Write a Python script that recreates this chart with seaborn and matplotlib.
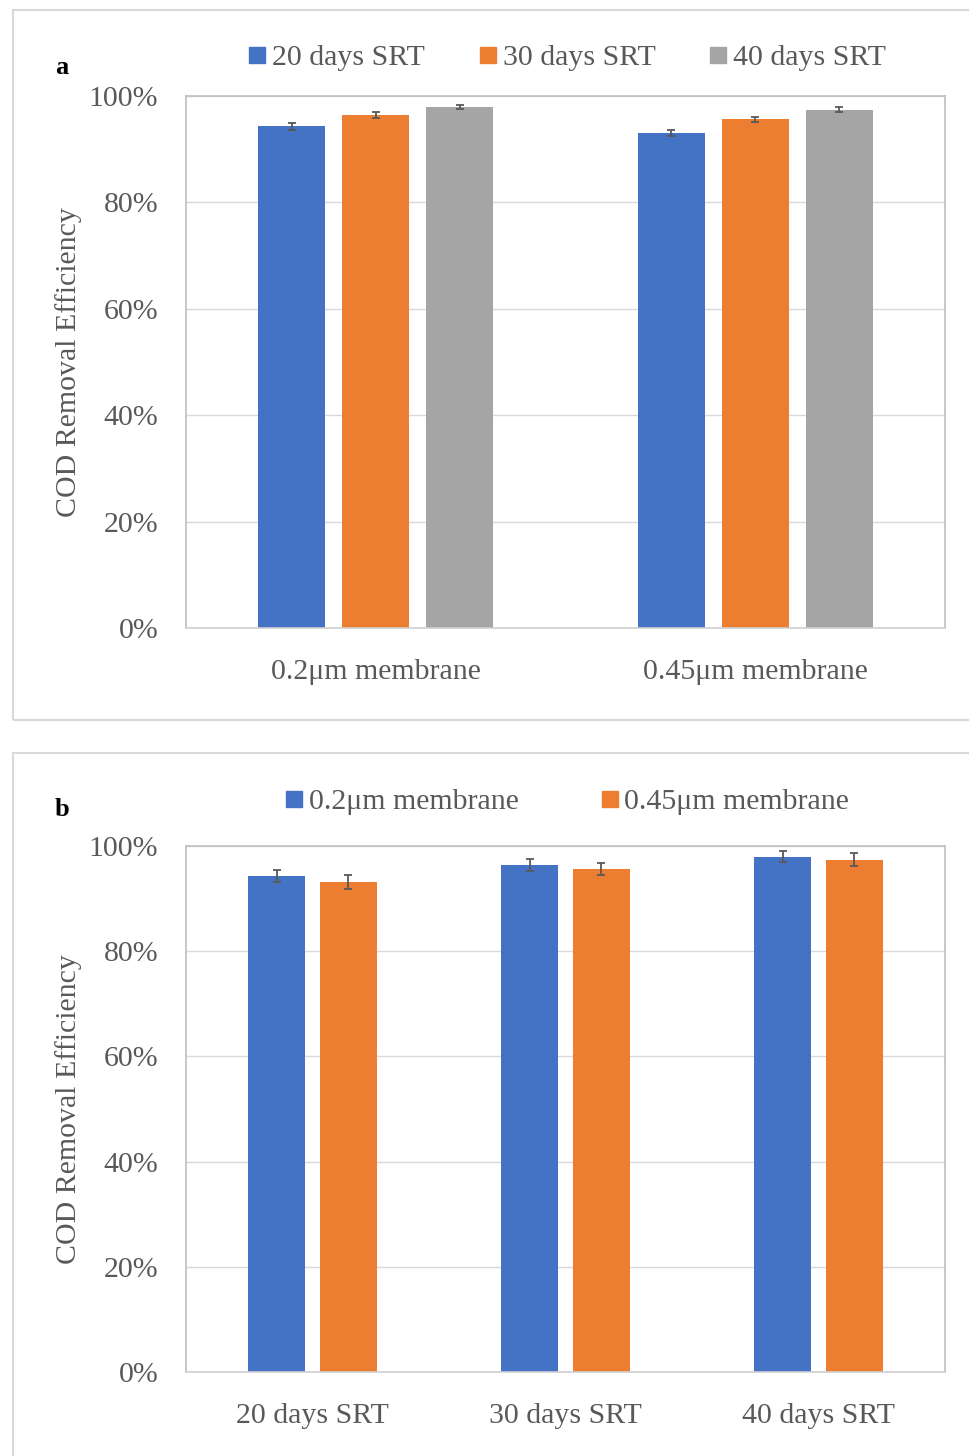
import matplotlib
matplotlib.use("Agg")
import matplotlib.pyplot as plt
import seaborn as sns
import pandas as pd
from matplotlib.patches import Rectangle
from matplotlib.ticker import PercentFormatter
from matplotlib.lines import Line2D

# data (COD removal, %)
srt_levels = ["20 days SRT", "30 days SRT", "40 days SRT"]
membranes = ["0.2\u03bcm membrane", "0.45\u03bcm membrane"]
cod_02 = [94.3, 96.4, 98.0]
cod_045 = [93.1, 95.6, 97.4]
err_a_02 = [0.6, 0.5, 0.4]
err_a_045 = [0.6, 0.5, 0.45]
err_b_02 = [1.1, 1.1, 1.1]
err_b_045 = [1.3, 1.2, 1.2]
yticks = [0, 20, 40, 60, 80, 100]

blue, orange, grey = "#4472C4", "#ED7D31", "#A5A5A5"
text_col = "#595959"
fs = 21.5

sns.set_theme(style="white")
plt.rcParams['font.family'] = ['Liberation Serif', 'DejaVu Serif']

W, H = 969, 1456
fig = plt.figure(figsize=(W / 100, H / 100), dpi=100)


def px_axes(x0, y0, x1, y1):
    return fig.add_axes([x0 / W, 1 - y1 / H, (x1 - x0) / W, (y1 - y0) / H])


def style_axes(ax, ncat):
    ax.set_xlim(-0.5, ncat - 0.5)
    ax.set_ylim(0, 100)
    ax.set_yticks(yticks)
    ax.yaxis.set_major_formatter(PercentFormatter(decimals=0))
    ax.grid(axis="y", color="#D9D9D9", lw=1)
    ax.set_axisbelow(True)
    for name, s in ax.spines.items():
        s.set_visible(True)
        s.set_color("#D0D0D0" if name == "bottom" else "#BFBFBF")
        s.set_linewidth(1.2)
    ax.tick_params(axis="both", length=0, labelsize=fs, colors=text_col)
    ax.tick_params(axis="y", pad=20)
    ax.tick_params(axis="x", pad=22)
    ax.set_xlabel("")
    ax.set_ylabel("COD Removal Efficiency", fontsize=fs, color=text_col)
    ax.yaxis.set_label_coords(-0.137, 0.5)


def add_errors(ax, errs):
    for cont, err in zip(ax.containers, errs):
        xs = [p.get_x() + p.get_width() / 2 for p in cont]
        ys = [p.get_height() for p in cont]
        ax.errorbar(xs, ys, yerr=err, fmt="none", ecolor=text_col,
                    elinewidth=1.3, capsize=3, capthick=1.3)


# panel outlines
fig.patches.append(Rectangle((13 / W, 1 - 720 / H), 1, 710 / H, transform=fig.transFigure,
                             fill=False, ec="#D9D9D9", lw=1.5))
fig.patches.append(Rectangle((13 / W, -0.01), 1, 1 - 753 / H + 0.01, transform=fig.transFigure,
                             fill=False, ec="#D9D9D9", lw=1.5))

# panel a: grouped by membrane
df_a = pd.DataFrame({
    "membrane": [m for m in membranes for _ in srt_levels],
    "srt": srt_levels * 2,
    "cod": cod_02 + cod_045,
})
ax_a = px_axes(186, 96, 945, 628)
sns.barplot(data=df_a, x="membrane", y="cod", hue="srt", hue_order=srt_levels,
            order=membranes, palette=[blue, orange, grey], width=0.664, gap=0.2,
            saturation=1, linewidth=0, errorbar=None, legend=False, ax=ax_a)
add_errors(ax_a, [[e1, e2] for e1, e2 in zip(err_a_02, err_a_045)])
style_axes(ax_a, len(membranes))

handles_a = [Line2D([], [], marker="s", ls="", markersize=12, color=c) for c in [blue, orange, grey]]
fig.legend(handles_a, srt_levels, loc="center", bbox_to_anchor=(567 / W, 1 - 58 / H),
           ncol=3, frameon=False, fontsize=fs, labelcolor=text_col,
           handletextpad=0.2, columnspacing=1.8, handlelength=0.6)
fig.text(55 / W, 1 - 68 / H, "a", fontsize=19, fontweight="bold", color="black", va="center")

# panel b: grouped by SRT
df_b = pd.DataFrame({
    "srt": srt_levels * 2,
    "membrane": [m for m in membranes for _ in srt_levels],
    "cod": cod_02 + cod_045,
})
ax_b = px_axes(186, 846, 945, 1372)
sns.barplot(data=df_b, x="srt", y="cod", hue="membrane", hue_order=membranes,
            order=srt_levels, palette=[blue, orange], width=0.569, gap=0.21,
            saturation=1, linewidth=0, errorbar=None, legend=False, ax=ax_b)
add_errors(ax_b, [err_b_02, err_b_045])
style_axes(ax_b, len(srt_levels))

handles_b = [Line2D([], [], marker="s", ls="", markersize=12, color=c) for c in [blue, orange]]
fig.legend(handles_b, membranes, loc="center", bbox_to_anchor=(567 / W, 1 - 802 / H),
           ncol=2, frameon=False, fontsize=fs, labelcolor=text_col,
           handletextpad=0.2, columnspacing=2.75, handlelength=0.6)
fig.text(55 / W, 1 - 810 / H, "b", fontsize=19, fontweight="bold", color="black", va="center")

fig.savefig("out.png", dpi=100)
